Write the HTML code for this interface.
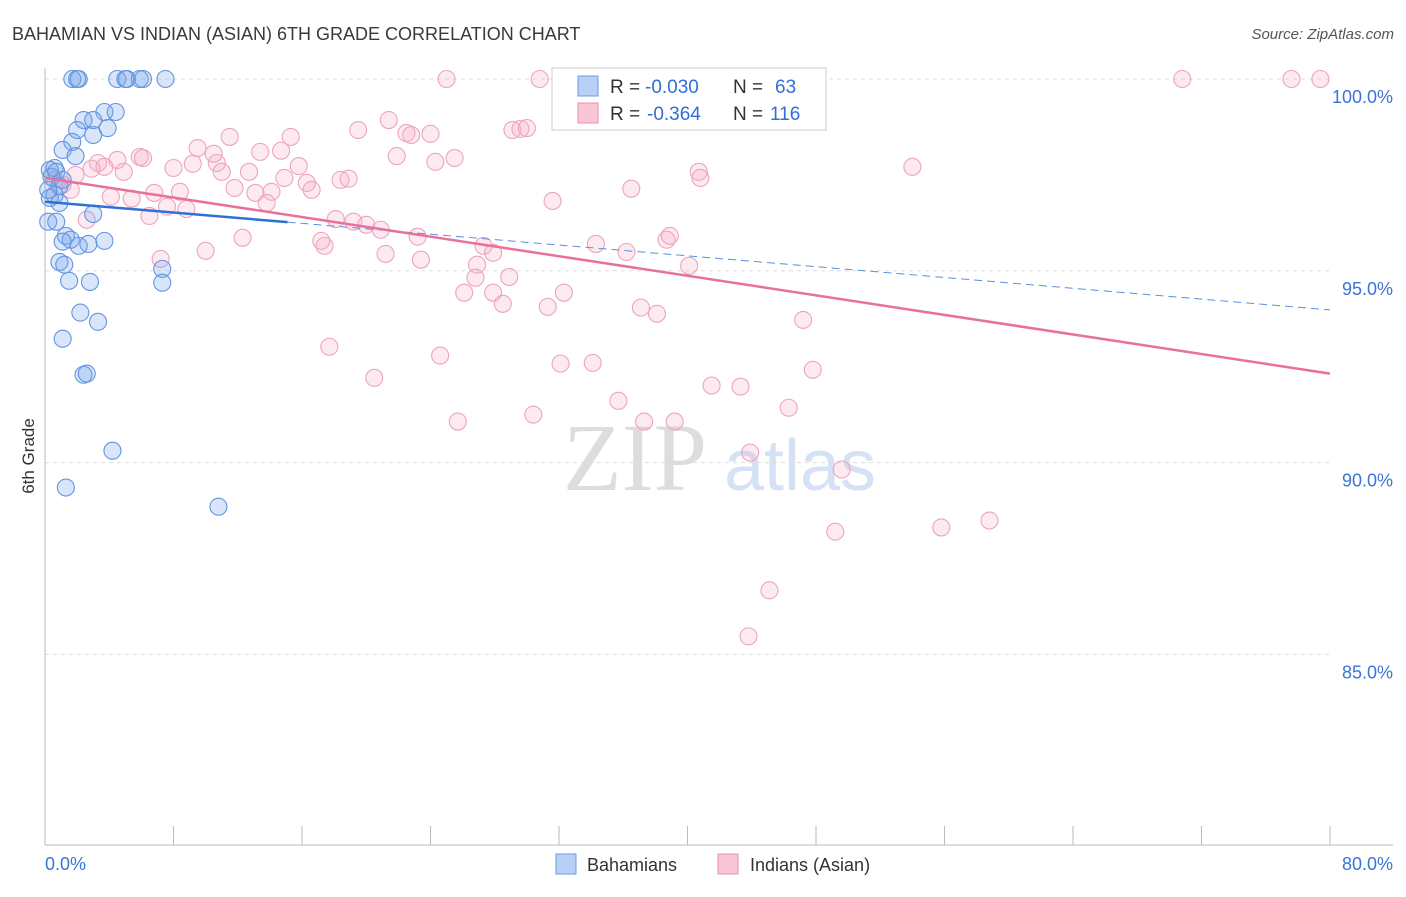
<!DOCTYPE html><html><head><meta charset="utf-8"><style>
body{margin:0;background:#fff;font-family:"Liberation Sans",sans-serif}
</style></head><body>
<svg id="c" width="1406" height="892" xmlns="http://www.w3.org/2000/svg">
<text x="12" y="40" font-size="18" fill="#3a3a3a">BAHAMIAN VS INDIAN (ASIAN) 6TH GRADE CORRELATION CHART</text>
<text x="1394" y="39" font-size="15" fill="#555" font-style="italic" text-anchor="end">Source: ZipAtlas.com</text>
<text transform="translate(34,456) rotate(-90)" font-size="17" fill="#333" text-anchor="middle">6th Grade</text>
<g><text x="635" y="490" font-size="96" fill="#ddd" font-family="Liberation Serif" text-anchor="middle">ZIP</text><text x="800" y="490" font-size="72" fill="#d5e2f5" text-anchor="middle">atlas</text></g>
<g id="grid"></g><g id="marks"></g>
<g>
<rect x="552" y="68" width="274" height="62" fill="#fff" stroke="#ccc"/>
<rect x="578" y="76" width="20" height="20" fill="#b8d0f5" stroke="#6c9be0"/>
<rect x="578" y="103" width="20" height="20" fill="#f9c6d6" stroke="#e892b0"/>
<text x="610" y="93" font-size="19" fill="#333">R =</text><text x="645" y="93" font-size="19" fill="#2f6fd6">-0.030</text>
<text x="733" y="93" font-size="19" fill="#333">N =</text><text x="775" y="93" font-size="19" fill="#2f6fd6">63</text>
<text x="610" y="120" font-size="19" fill="#333">R =</text><text x="647" y="120" font-size="19" fill="#2f6fd6">-0.364</text>
<text x="733" y="120" font-size="19" fill="#333">N =</text><text x="770" y="120" font-size="19" fill="#2f6fd6">116</text>
</g>
<g>
<rect x="556" y="854" width="20" height="20" fill="#b8d0f5" stroke="#6c9be0"/><text x="587" y="871" font-size="18" fill="#333">Bahamians</text>
<rect x="718" y="854" width="20" height="20" fill="#f9c6d6" stroke="#e892b0"/><text x="750" y="871" font-size="18" fill="#333">Indians (Asian)</text>
</g>
</svg>
<script>
const xTicks=[0,10,20,30,40,50,60,70,80];
const yTicks=[100,95,90,85];
const blueX=[1.7,2.0,2.1,4.5,5.0,5.1,5.9,6.1,7.5,3.7,4.4,2.4,3.0,2.0,3.9,3.0,1.7,1.1,1.9,0.6,0.4,0.9,0.6,0.3,0.9,0.2,3.0,0.7,1.3,1.6,1.1,2.7,3.7,2.1,0.9,1.2,1.5,2.8,7.3,7.3,2.2,3.3,1.1,2.4,2.6,4.2,1.3,10.8,0.3,0.7,1.1,0.2];
const blueY=[100,100,100,100,100,100,100,100,100,99.14,99.14,98.93,98.93,98.67,98.72,98.54,98.36,98.15,97.99,97.68,97.45,97.21,96.98,96.9,96.77,96.28,96.48,96.28,95.91,95.81,95.76,95.7,95.78,95.65,95.23,95.16,94.74,94.71,95.05,94.69,93.91,93.67,93.23,92.29,92.32,90.31,89.35,88.85,97.63,97.58,97.37,97.11];
const pinkX=[25.0,30.8,46.8,70.8,77.6,79.4,21.4,19.5,22.5,22.8,24.0,29.1,29.6,30.0,11.5,15.3,14.7,9.5,13.4,21.9,25.5,24.3,10.5,10.7,9.2,5.9,6.1,4.5,3.3,3.7,2.9,4.9,8.0,11.0,12.7,15.8,14.9,16.3,18.4,18.9,36.5,40.7,40.8,54.0,11.8,13.1,14.1,16.6,6.8,8.4,4.1,5.4,31.6,13.8,6.5,7.6,8.8,2.6,18.1,19.2,20.0,20.9,12.3,17.2,17.4,23.2,27.3,27.9,34.3,36.2,38.7,38.9,10.0,21.2,23.4,26.9,40.1,7.2,28.9,26.8,26.1,27.9,32.3,28.5,31.3,37.1,38.1,47.2,17.7,24.6,32.1,34.1,20.5,41.5,43.3,47.8,35.7,46.3,30.4,25.7,37.3,39.2,43.9,49.6,49.2,55.8,58.8,45.1,43.8,1.9,1.1,1.6,0.6];
const pinkY=[100,100,100,100,100,100,98.93,98.67,98.59,98.54,98.57,98.67,98.7,98.72,98.49,98.49,98.13,98.2,98.1,97.99,97.94,97.84,98.05,97.81,97.79,97.97,97.94,97.89,97.81,97.71,97.66,97.58,97.68,97.58,97.58,97.73,97.42,97.29,97.37,97.4,97.14,97.58,97.42,97.71,97.16,97.03,97.06,97.11,97.03,97.06,96.93,96.88,96.82,96.77,96.43,96.67,96.61,96.33,96.35,96.28,96.2,96.07,95.86,95.78,95.65,95.89,95.65,95.47,95.7,95.49,95.81,95.91,95.52,95.44,95.29,95.16,95.13,95.31,94.84,94.82,94.43,94.43,94.43,94.14,94.06,94.04,93.88,93.72,93.02,92.79,92.58,92.6,92.21,92.01,91.98,92.42,91.61,91.43,91.25,91.07,91.07,91.07,90.26,89.82,88.2,88.31,88.49,86.67,85.47,97.5,97.24,97.11,97.37];
const blueTrend=[96.80,93.98]; const blueSolidEnd=15.1;
const pinkTrend=[97.42,92.32];
const X=v=>45+v/80*1285, Y=v=>79+(100-v)*38.36;
const NS='http://www.w3.org/2000/svg';
function mk(t,a,p){const e=document.createElementNS(NS,t);for(const k in a)e.setAttribute(k,a[k]);p.appendChild(e);return e;}
const g=document.getElementById('grid'), m=document.getElementById('marks');
yTicks.forEach(v=>{const l=mk('line',{x1:45,x2:1330,y1:Y(v),y2:Y(v),stroke:'#ddd','stroke-dasharray':'4,4'},g);


const t=mk('text',{x:1393,y:Y(v)+24,'font-size':18,fill:'#3a74d6','text-anchor':'end'},g);t.textContent=v.toFixed(1)+'%';

});
mk('line',{x1:45,x2:45,y1:68,y2:845,stroke:'#bbb'},g);
mk('line',{x1:45,x2:1393,y1:845,y2:845,stroke:'#bbb'},g);
for(let i=0;i<=10;i++){const xv=i*8;const l=mk('line',{x1:X(xv),x2:X(xv),y1:826,y2:845,stroke:'#bbb'},g);

}
[[0,'start'],[80,'end']].forEach(([v,a])=>{const t=mk('text',{x:v?1393:45,y:870,'font-size':18,fill:'#3a74d6','text-anchor':a},g);t.textContent=v.toFixed(1)+'%';

});
function dots(xs,ys,fill,stroke,name){xs.forEach((x,i)=>{const c=mk('circle',{cx:X(x),cy:Y(ys[i]),r:8.5,fill:fill,stroke:stroke,'stroke-width':1.1},m);

});}
dots(pinkX,pinkY,'rgba(246,170,198,0.25)','#eca4be','indian-point');
dots(blueX,blueY,'rgba(120,165,232,0.28)','#6494e2','bahamian-point');
const lerp=(t,x)=>t[0]+(t[1]-t[0])*x/80;
let l=mk('line',{x1:X(0),y1:Y(lerp(blueTrend,0)),x2:X(blueSolidEnd),y2:Y(lerp(blueTrend,blueSolidEnd)),stroke:'#2f6fd6','stroke-width':2.5},m);


l=mk('line',{x1:X(blueSolidEnd),y1:Y(lerp(blueTrend,blueSolidEnd)),x2:X(80),y2:Y(lerp(blueTrend,80)),stroke:'#5a8ee0','stroke-width':1,'stroke-dasharray':'8,5'},m);


l=mk('line',{x1:X(0),y1:Y(lerp(pinkTrend,0)),x2:X(80),y2:Y(lerp(pinkTrend,80)),stroke:'#e8709a','stroke-width':2.5},m);


</script></body></html>
